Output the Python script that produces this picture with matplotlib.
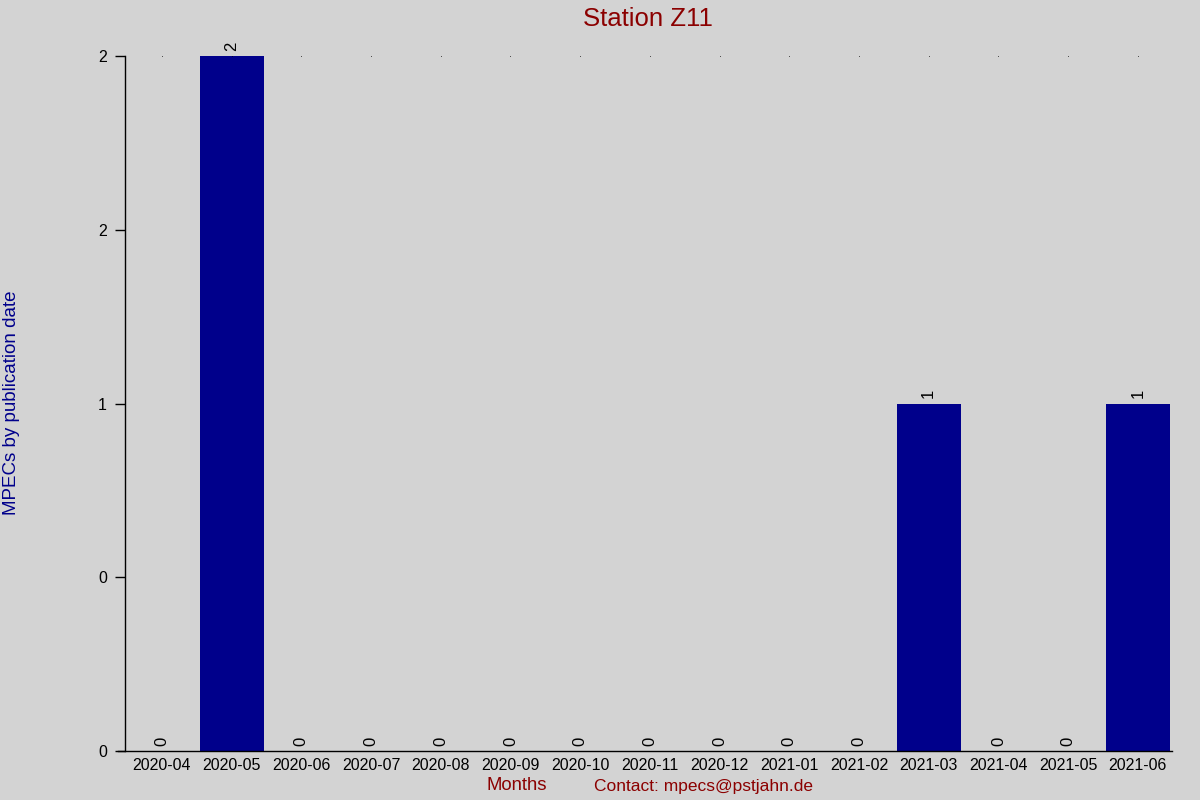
import matplotlib
matplotlib.use("Agg")
import matplotlib.pyplot as plt

months = ["2020-04", "2020-05", "2020-06", "2020-07", "2020-08", "2020-09",
          "2020-10", "2020-11", "2020-12", "2021-01", "2021-02", "2021-03",
          "2021-04", "2021-05", "2021-06"]
counts = [0, 2, 0, 0, 0, 0, 0, 0, 0, 0, 0, 1, 0, 0, 1]
y_ticks = [0, 0.5, 1, 1.5, 2]
y_tick_labels = ["0", "0", "1", "2", "2"]

plt.rcParams['font.family'] = ['Liberation Sans', 'DejaVu Sans']

bg = "#D3D3D3"
fig = plt.figure(figsize=(12, 8), dpi=100, facecolor=bg)
ax = fig.add_axes([125/1200, 49/800, (1172-125)/1200, (751-56)/800])
ax.set_facecolor(bg)

x = list(range(len(months)))
ax.bar(x, counts, width=0.92, color="#00008B")
for xi, c in zip(x, counts):
    ax.text(xi, c + 0.015, str(c), rotation=90, ha="center", va="bottom",
            fontsize=12, color="black")
# small dots at top
ax.scatter(x, [max(counts)] * len(x), s=0.25, color="black", zorder=3,
           linewidths=0)

ax.set_xlim(-0.53, len(months) - 1 + 0.49)
ax.set_ylim(0, 2)
ax.set_xticks(x)
ax.set_xticklabels(months, fontsize=11.5)
ax.tick_params(axis="x", length=0, pad=5)
ax.set_yticks(y_ticks)
ax.set_yticklabels(y_tick_labels, fontsize=11.5)
ax.tick_params(axis="y", length=7, width=1, pad=6)
for s in ["top", "right"]:
    ax.spines[s].set_visible(False)
ax.spines["left"].set_linewidth(1)
ax.spines["bottom"].set_linewidth(1)
ax.spines["bottom"].set_bounds(-0.53 - 7/69.8, len(months) - 1 + 0.49)

fig.text(648/1200, 1 - 19/800, "Station Z11", ha="center", va="center",
         fontsize=18.5, color="#8B0000")
fig.text(12/1200, 1 - 403/800, "MPECs by publication date", rotation=90,
         ha="center", va="center", fontsize=13.5, color="#00008B")
fig.text(517/1200, 1 - 786/800, "Months", ha="center", va="center",
         fontsize=13.3, color="#8B0000")
fig.text(704/1200, 1 - 786/800, "Contact: mpecs@pstjahn.de", ha="center",
         va="center", fontsize=12.5, color="#8B0000")

fig.savefig("out.png", dpi=100, facecolor=bg)
